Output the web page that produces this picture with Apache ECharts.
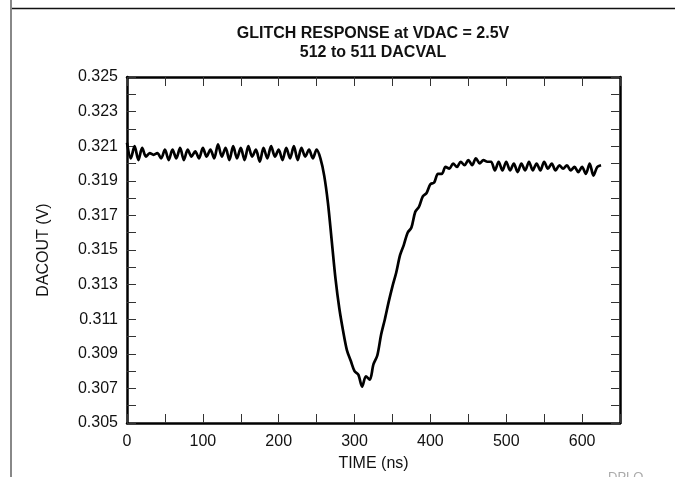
<!DOCTYPE html>
<html>
<head>
<meta charset="utf-8">
<script src="https://cdn.jsdelivr.net/npm/echarts@6/dist/echarts.min.js"></script>
<style>html,body{margin:0;padding:0;background:#fff}#c{width:675px;height:477px}</style>
</head>
<body>
<div id="c"></div>
<script>
const titleLines = ["GLITCH RESPONSE at VDAC = 2.5V", "512 to 511 DACVAL"];
const xAxisName = "TIME (ns)";
const yAxisName = "DACOUT (V)";
const footnote = "DPLO";

const timeNs = [
  0,5,10,15,20,25,30,35,40,45,50,55,60,65,70,75,80,85,90,95,
  100,105,110,115,120,125,130,135,140,145,150,155,160,165,170,175,180,185,190,195,
  200,205,210,215,220,225,230,235,240,245,250,255,260,265,270,275,280,285,290,295,
  300,305,310,315,320,325,330,335,340,345,350,355,360,365,370,375,380,385,390,395,
  400,405,410,415,420,425,430,435,440,445,450,455,460,465,470,475,480,485,490,495,
  500,505,510,515,520,525,530,535,540,545,550,555,560,565,570,575,580,585,590,595,
  600,605,610,615,620,625
];
const dacoutV = [
  0.3212,0.3203,0.3210,0.3202,0.3209,0.3204,0.3206,0.3205,0.3206,0.3203,
  0.3208,0.3202,0.3208,0.3203,0.3209,0.3202,0.3208,0.3204,0.3207,0.3203,
  0.3209,0.3204,0.3208,0.3203,0.3211,0.3204,0.3209,0.3202,0.3210,0.3203,
  0.3209,0.3202,0.3210,0.3204,0.3208,0.3201,0.3209,0.3203,0.3210,0.3204,
  0.3208,0.3202,0.3209,0.3203,0.3210,0.3202,0.3209,0.3204,0.3208,0.3203,
  0.3208,0.3203,0.3193,0.3177,0.3155,0.3133,0.3116,0.3103,0.3092,0.3086,
  0.3080,0.3078,0.3071,0.3077,0.3075,0.3084,0.3089,0.3101,0.3110,0.3120,
  0.3129,0.3137,0.3147,0.3153,0.3160,0.3163,0.3172,0.3175,0.3181,0.3183,
  0.3188,0.3189,0.3194,0.3194,0.3198,0.3197,0.3200,0.3198,0.3201,0.3199,
  0.3202,0.3199,0.3203,0.3200,0.3202,0.3201,0.3201,0.3196,0.3201,0.3196,
  0.3201,0.3196,0.3200,0.3195,0.3200,0.3196,0.3201,0.3196,0.3200,0.3196,
  0.3201,0.3197,0.3200,0.3196,0.3199,0.3197,0.3199,0.3196,0.3198,0.3195,
  0.3198,0.3194,0.3200,0.3193,0.3198,0.3199
];
const xMin = 0, xMax = 650, xStep = 50, xLabelEvery = 100;
const yMin = 0.305, yMax = 0.325, yStep = 0.001;

const FONT = "Liberation Sans";
const chart = echarts.init(document.getElementById('c'), null, {renderer: 'canvas'});

const tickStyle = {show: true, inside: true, length: 9, lineStyle: {color: '#333', width: 1}};
const frameLine = {show: true, onZero: false, lineStyle: {color: '#000', width: 2.5}};

chart.setOption({
  animation: false,
  backgroundColor: '#fff',
  grid: {left: 127, right: 55, top: 77, bottom: 51},
  xAxis: [{
    type: 'value', min: xMin, max: xMax, interval: xStep,
    axisLine: frameLine, axisTick: tickStyle, splitLine: {show: false},
    axisLabel: {
      margin: 11, color: '#111', fontFamily: FONT, fontSize: 16,
      formatter: v => (Math.round(v) % xLabelEvery === 0 && v < xMax) ? String(Math.round(v)) : ''
    },
    name: xAxisName, nameLocation: 'middle', nameGap: 33,
    nameTextStyle: {color: '#111', fontFamily: FONT, fontSize: 16}
  }, {
    type: 'value', position: 'top', min: xMin, max: xMax, interval: xStep,
    axisLine: frameLine, axisTick: tickStyle, axisLabel: {show: false}, splitLine: {show: false}
  }],
  yAxis: [{
    type: 'value', min: yMin, max: yMax, interval: yStep,
    axisLine: frameLine, axisTick: tickStyle, splitLine: {show: false},
    axisLabel: {
      margin: 9, color: '#111', fontFamily: FONT, fontSize: 16,
      formatter: v => (Math.round(v * 1000) % 2 === 1) ? v.toFixed(3) : ''
    },
    name: yAxisName, nameLocation: 'middle', nameGap: 75,
    nameTextStyle: {color: '#111', fontFamily: FONT, fontSize: 16}
  }, {
    type: 'value', position: 'right', min: yMin, max: yMax, interval: yStep,
    axisLine: frameLine, axisTick: tickStyle, axisLabel: {show: false}, splitLine: {show: false}
  }],
  series: [{
    type: 'line', xAxisIndex: 0, yAxisIndex: 0,
    data: timeNs.map((t, i) => [t, dacoutV[i]]),
    showSymbol: false, smooth: 0.3,
    lineStyle: {color: '#000', width: 2.7}
  }],
  graphic: [
    {type: 'line', shape: {x1: 11, y1: 8.5, x2: 675, y2: 8.5}, style: {stroke: '#111', lineWidth: 1.5}},
    {type: 'line', shape: {x1: 11, y1: 0, x2: 11, y2: 477}, style: {stroke: '#888', lineWidth: 2}},
    {type: 'text', x: 373, y: 34, style: {text: titleLines[0], fill: '#111', font: 'bold 16px "Liberation Sans"', textAlign: 'center', textVerticalAlign: 'middle'}},
    {type: 'text', x: 373, y: 53, style: {text: titleLines[1], fill: '#111', font: 'bold 16px "Liberation Sans"', textAlign: 'center', textVerticalAlign: 'middle'}},
    {type: 'text', x: 608, y: 471, style: {text: footnote, fill: '#aaa', font: '13px "Liberation Sans"', textAlign: 'left', textVerticalAlign: 'top'}}
  ]
});
</script>
</body>
</html>
